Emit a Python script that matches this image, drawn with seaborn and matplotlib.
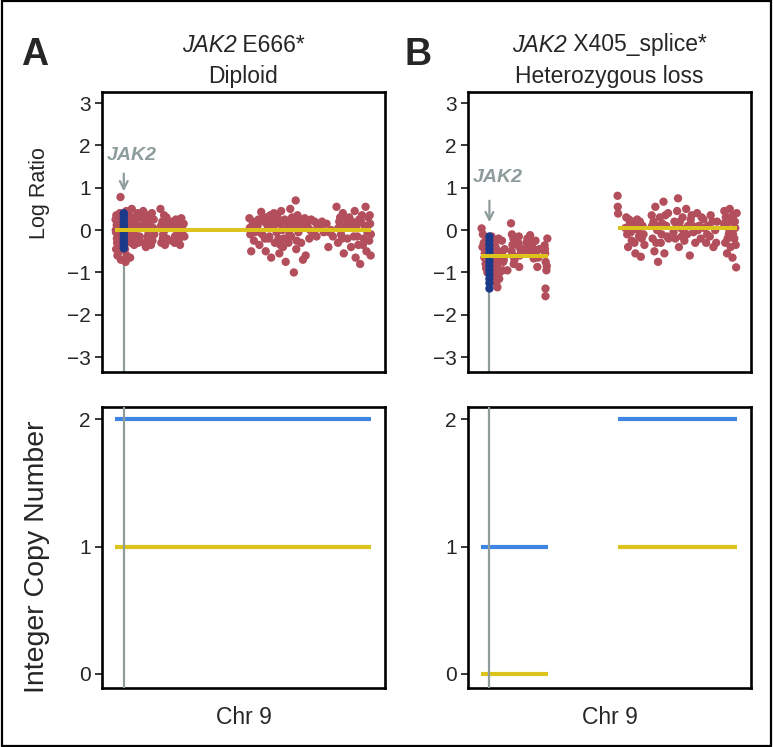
#!/usr/bin/env python3
"""Chr 9 log ratio and integer copy number around JAK2, two tumours side by side."""

import matplotlib
matplotlib.use("Agg")
import matplotlib.pyplot as plt
from matplotlib import font_manager
from matplotlib.patches import Rectangle
import pandas as pd
import seaborn as sns

# ---- data (positions in Mb along chr 9) ----
JAK2_POS_A = 4.8
JAK2_POS_B = 4.6

a_pos = [0.3, 0.5, 0.6, 0.9, 1.1, 1.3, 1.6, 1.8, 2.1, 2.3, 2.6, 2.8, 3.0, 3.2, 3.4, 3.7,
         5.6, 5.9, 6.2, 6.4, 6.6, 5.8, 6.1,
         7.5, 8.0, 8.3, 8.8, 9.2, 9.6, 10.1, 10.5, 11.0, 11.4, 12.0, 12.5, 13.0, 13.5, 13.9,
         15.5, 16.0, 16.4, 17.0, 17.5, 18.0, 18.6, 19.2, 19.8, 20.3, 21.0, 21.6,
         25.0, 25.5, 26.0, 26.5, 27.0, 27.5, 28.0, 28.5,
         30.5, 31.2, 32.0, 32.8, 33.5, 34.2, 35.0, 35.8, 36.5, 37.3, 38.2,
         0.4, 0.7, 1.0, 1.4, 1.9, 2.4, 2.9, 3.5, 5.5, 6.0, 6.5,
         7.2, 7.8, 8.5, 9.0, 9.9, 10.8, 11.8, 12.8, 13.6,
         15.8, 16.8, 17.8, 18.3, 19.5, 20.6, 21.3,
         25.3, 26.3, 27.3, 28.3,
         31.0, 32.4, 33.0, 34.6, 35.4, 36.2, 37.8,
         74.0, 74.5, 75.0, 75.5, 76.5,
         78.5, 79.5, 80.5, 81.0, 82.0, 83.0, 83.5, 84.5, 85.5, 86.0, 87.0, 88.0, 87.5,
         89.5, 90.0, 90.5, 91.5, 92.0, 92.5, 93.5, 94.0, 95.0, 95.5, 96.5, 97.0, 98.0,
         98.5, 99.5, 99.8, 100.5, 101.0, 102.0, 102.5, 103.5,
         104.5, 105.0, 106.0, 107.0, 108.0, 109.0, 110.0, 111.0, 112.0,
         113.5, 115.0, 116.5, 117.5, 119.0, 120.0,
         122.0, 122.8, 123.5, 124.5, 125.5, 126.0, 127.0, 128.0, 129.0, 130.0, 131.0,
         132.0, 132.5, 133.5, 134.5, 135.0, 136.0, 136.5, 137.5, 138.0, 138.5, 139.0,
         139.5, 140.0, 140.5, 140.8,
         74.2, 75.8, 77.0,
         79.0, 80.0, 81.5, 82.5, 84.0, 85.0, 86.5, 88.5,
         89.0, 90.8, 91.0, 93.0, 94.5, 96.0, 97.5, 99.0, 100.0, 101.5, 103.0,
         105.5, 107.5, 109.5, 111.5,
         114.0, 118.0,
         123.0, 124.0, 125.0, 127.5, 128.5, 130.5, 131.5, 133.0, 134.0, 135.5, 137.0,
         139.2, 140.3, 140.9]
a_lr = [0.25, -0.05, -0.45, 0.12, -0.3, -0.6, 0.3, -0.15, 0.05, -0.5, 0.4, -0.25, 0.78, -0.7, 0.15, -0.4,
        0.2, -0.3, 0.45, -0.6, -0.1, -0.75, 0.05,
        0.35, -0.2, -0.65, 0.15, 0.5, -0.1, 0.3, -0.35, 0.0, 0.25, -0.25, 0.4, 0.1, -0.15, 0.3,
        0.45, -0.3, 0.1, -0.4, 0.3, 0.0, -0.2, 0.2, -0.35, 0.4, 0.05, -0.1,
        0.5, -0.3, 0.2, -0.1, 0.35, -0.35, 0.1, -0.2,
        0.2, -0.25, 0.05, -0.3, 0.25, -0.1, 0.15, -0.35, 0.28, 0.0, -0.15,
        0.0, 0.35, -0.2, -0.1, 0.2, 0.1, -0.35, 0.0, -0.45, 0.35, 0.15,
        -0.05, 0.2, 0.05, -0.3, 0.15, -0.15, 0.1, -0.3, 0.05,
        0.15, 0.25, -0.15, 0.35, 0.05, -0.25, 0.25,
        0.1, -0.2, 0.0, 0.3,
        0.05, 0.2, -0.15, 0.1, -0.2, 0.1, 0.15,
        0.28, -0.1, -0.5, 0.1, -0.25,
        0.1, -0.35, 0.43, -0.1, 0.2, -0.5, 0.3, -0.2, 0.35, -0.65, 0.05, -0.3, 0.4,
        0.3, -0.2, -0.55, 0.45, 0.0, -0.4, 0.25, -0.75, 0.1, -0.3, 0.5, -0.15, 0.2,
        -1.0, 0.7, -0.45, 0.35, -0.05, 0.15, -0.3, -0.7,
        0.28, -0.6, 0.1, -0.2, 0.25, -0.1, 0.2, -0.15, 0.05,
        0.1, -0.05, 0.15, -0.4, 0.0, -0.15,
        0.55, -0.3, 0.2, -0.1, 0.4, -0.55, 0.1, -0.2, 0.3, -0.4, 0.05,
        0.45, -0.65, -0.15, 0.25, -0.8, 0.35, -0.35, 0.1, 0.55, -0.5, -0.05,
        0.3, -0.25, 0.15, -0.6,
        0.05, 0.2, -0.05,
        0.25, -0.05, 0.3, -0.2, 0.1, -0.15, 0.2, 0.15,
        -0.05, 0.15, -0.35, -0.2, 0.2, -0.1, 0.3, 0.05, -0.25, 0.25, 0.1,
        0.15, 0.0, -0.05, 0.1,
        0.2, -0.05,
        0.05, 0.3, -0.2, 0.25, 0.15, 0.2, -0.15, 0.1, -0.35, 0.2, -0.2,
        0.1, 0.35, -0.1]
a_jak2_lr = [0.4, 0.33, 0.26, 0.19, 0.12, 0.05, -0.02, -0.09, -0.16, -0.23, -0.3, -0.37, -0.43]

b_pos = [0.3, 1.0, 1.5, 2.0, 2.5, 3.0, 3.5, 5.8, 6.2, 6.5, 6.8, 7.2, 7.5, 7.8, 8.2, 8.6, 9.0,
         9.4, 9.8, 10.2, 11.5, 11.8, 12.0, 12.5, 14.5, 16.5, 17.0, 17.3, 17.6, 18.0,
         20.8, 21.0, 21.3, 21.0, 25.0, 26.0, 27.0, 28.0, 29.0, 30.0, 31.0, 32.0,
         35.0, 35.3, 35.6, 36.0, 35.5, 35.5, 36.5,
         0.8, 1.8, 2.8, 3.3,
         5.6, 6.0, 6.6, 7.0, 7.6, 8.0, 8.4, 8.8, 9.2, 9.6, 10.0,
         11.0, 12.2, 13.0,
         16.8, 17.8, 18.4,
         20.5, 22.0,
         24.5, 25.5, 27.5, 28.5, 30.5, 31.5,
         35.2, 36.2,
         75.2, 75.3, 75.5, 80.0, 80.5, 81.0, 82.0, 83.0, 84.0, 85.0, 86.0, 87.0, 88.0,
         89.0, 90.0, 94.0, 94.5, 95.5, 96.0, 97.0, 97.5, 98.5, 99.0, 100.0, 100.5, 101.0,
         102.0, 102.5, 103.0, 106.5, 107.0, 108.0, 108.5, 109.0, 110.0, 111.0, 112.0,
         113.0, 114.0, 115.0, 116.0, 117.0, 119.0, 120.0, 121.0, 122.5, 124.0, 125.0,
         126.5, 128.0, 129.0, 130.0, 134.0, 134.5, 135.0, 135.5, 136.0, 136.5, 137.0,
         137.5, 138.0, 138.5, 139.0, 139.5, 140.0, 140.5, 140.8,
         79.5, 81.5, 82.5, 83.5, 84.5, 85.5, 86.5, 87.5, 88.5, 89.5,
         94.2, 95.0, 96.5, 98.0, 99.5, 101.5, 103.3,
         106.0, 107.5, 109.5, 110.5, 111.5, 113.5, 115.5, 116.5, 118.0,
         119.5, 121.5, 123.0, 124.5, 126.0, 127.5, 129.5,
         133.8, 134.8, 135.8, 136.8, 137.8, 138.8, 139.8, 140.3]
b_lr = [0.04, -0.1, -0.3, -0.55, -0.8, -0.2, -1.0, -0.15, -0.45, -0.7, -0.95, -1.2, -0.3, -0.6, -0.85, -1.1, -1.35,
        -0.5, -0.75, -1.0, -0.25, -0.5, -0.95, -0.7, -0.95, 0.16, -0.1, -0.35, -0.6, -0.8,
        -0.15, -0.4, -0.6, -0.87, -0.3, -0.55, -0.12, -0.4, -0.67, -0.25, -0.87, -0.45,
        -0.36, -0.55, -0.75, -0.95, -1.38, -1.56, -0.2,
        -0.4, -0.65, -0.9, -0.5,
        -0.35, -0.8, -1.05, -0.55, -1.0, -0.4, -1.25, -0.65, -0.9, -0.2, -1.15,
        -0.6, -0.75, -0.45,
        -0.5, -0.2, -0.7,
        -0.3, -0.5,
        -0.45, -0.2, -0.55, -0.3, -0.5, -0.65,
        -0.45, -0.85,
        0.81, 0.55, 0.39, 0.3, -0.1, -0.4, 0.15, -0.25, 0.05, -0.55, 0.25, -0.15, -0.63,
        0.1, -0.35, 0.35, -0.2, -0.5, 0.55, 0.0, -0.75, 0.3, -0.3, 0.15, 0.67, -0.55,
        0.1, -0.15, 0.4, 0.2, -0.2, 0.45, 0.75, -0.4, 0.05, 0.3, -0.25,
        0.5, 0.1, -0.6, 0.35, -0.05, 0.4, 0.1, -0.2, 0.25, -0.3, 0.1,
        0.35, -0.4, 0.0, 0.2, 0.45, -0.3, 0.1, -0.55, 0.3, -0.1, 0.5,
        -0.4, 0.2, -0.65, 0.35, -0.2, 0.05, -0.88, 0.4,
        0.05, 0.25, -0.05, 0.2, -0.3, 0.1, 0.0, 0.2, -0.2, -0.1,
        0.1, 0.2, -0.3, 0.1, -0.1, 0.35, -0.2,
        -0.05, 0.15, 0.2, -0.15, 0.0, -0.1, 0.25, 0.1, -0.3,
        0.0, 0.3, 0.05, -0.1, -0.15, 0.2, -0.3,
        0.15, 0.3, -0.2, 0.0, 0.25, -0.1, 0.2, -0.35]
b_jak2_lr = [-0.15, -0.25, -0.35, -0.45, -0.55, -0.65, -0.75, -0.85, -0.95, -1.05, -1.15, -1.25, -1.38]

# segments: (start, end, value)
a_lr_segs = [(0, 141, 0.0)]
b_lr_segs = [(0, 37, -0.62), (75.2, 141, 0.04)]
a_total_cn = [(0, 141, 2)]
a_minor_cn = [(0, 141, 1)]
b_total_cn = [(0, 37, 1), (75.2, 141, 2)]
b_minor_cn = [(0, 37, 0), (75.2, 141, 1)]

panel_letters = ["A", "B"]
gene_titles = [" E666*", " X405_splice*"]
state_titles = ["Diploid", "Heterozygous loss"]

RED = "#b34f5c"
NAVY = "#1b3a8a"
YELLOW = "#dcc41c"
BLUE = "#3f86e4"
GREY = "#8e9c9c"

# fonts
names = {f.name for f in font_manager.fontManager.ttflist}
NARROW = "Liberation Sans Narrow" if "Liberation Sans Narrow" in names else "Liberation Sans"
HEAD = [NARROW, "DejaVu Sans"]

sns.set_style("white")
plt.rcParams["font.family"] = ["Liberation Sans", "DejaVu Sans"]

W, H = 773, 747
fig = plt.figure(figsize=(W / 100, H / 100), dpi=100)
fig.patches.append(Rectangle((0.002, 0.002), 0.996, 0.996, transform=fig.transFigure,
                             fill=False, edgecolor="black", linewidth=1.6))

lefts = [102 / W, 468 / W]
width = 283 / W
top_box = (1 - 372 / H, 280 / H)
bot_box = (1 - 688 / H, 281 / H)

panels = [
    dict(pos=a_pos, lr=a_lr, jlr=a_jak2_lr, jpos=JAK2_POS_A, segs=a_lr_segs,
         tot=a_total_cn, minor=a_minor_cn, lab=(9.4, 1.77), arr=(1.4, 0.85)),
    dict(pos=b_pos, lr=b_lr, jlr=b_jak2_lr, jpos=JAK2_POS_B, segs=b_lr_segs,
         tot=b_total_cn, minor=b_minor_cn, lab=(9.3, 1.23), arr=(0.76, 0.12)),
]

XLIM = (-7.2, 148.7)


def style_axes(ax):
    for s in ax.spines.values():
        s.set_visible(True)
        s.set_color("black")
        s.set_linewidth(1.9)
    ax.set_xticks([])
    ax.tick_params(axis="y", which="major", left=True, length=5, width=1.1,
                   labelsize=15, color="black", pad=3)
    ax.set_xlim(*XLIM)


def mixed_title(xc, y, italic_part, rest, size):
    """Centre an italic gene name followed by upright text."""
    t1 = fig.text(0, y, italic_part, fontsize=size, fontstyle="italic",
                  family=HEAD, ha="left", va="center")
    t2 = fig.text(0, y, rest, fontsize=size, family=HEAD, ha="left", va="center")
    r = fig.canvas.get_renderer()
    w1 = t1.get_window_extent(r).width
    w2 = t2.get_window_extent(r).width
    x0 = xc * W - (w1 + w2) / 2
    t1.set_x(x0 / W)
    t2.set_x((x0 + w1) / W)


for i, p in enumerate(panels):
    ax = fig.add_axes([lefts[i], top_box[0], width, top_box[1]])
    bx = fig.add_axes([lefts[i], bot_box[0], width, bot_box[1]])

    # top: log ratio
    df = pd.DataFrame({"pos": p["pos"], "lr": p["lr"]})
    jdf = pd.DataFrame({"pos": [p["jpos"]] * len(p["jlr"]), "lr": p["jlr"]})
    ax.vlines(p["jpos"], -3.35, max(p["jlr"]), color=GREY, linewidth=1.6, zorder=1)
    sns.scatterplot(data=df, x="pos", y="lr", ax=ax, color=RED, s=36,
                    edgecolor="none", linewidth=0, zorder=2, legend=False)
    sns.scatterplot(data=jdf, x="pos", y="lr", ax=ax, color=NAVY, s=36,
                    edgecolor="none", linewidth=0, zorder=3, legend=False)
    for x0, x1, v in p["segs"]:
        ax.hlines(v, x0, x1, color=YELLOW, linewidth=2.9, zorder=4)
    ax.text(p["lab"][0], p["lab"][1], "JAK2", color=GREY, fontsize=14,
            fontweight="bold", fontstyle="italic", ha="center", va="center")
    ax.annotate("", xy=(p["jpos"], p["arr"][1]), xytext=(p["jpos"], p["arr"][0]),
                arrowprops=dict(arrowstyle="->", color=GREY, lw=1.6,
                                mutation_scale=14))
    ax.set_ylim(-3.35, 3.26)
    ax.set_yticks([3, 2, 1, 0, -1, -2, -3])
    ax.set_yticklabels(["3", "2", "1", "0", "\u22121", "\u22122", "\u22123"])
    ax.set_xlabel("")
    ax.set_ylabel("")
    style_axes(ax)

    # bottom: integer copy number
    for x0, x1, v in p["tot"]:
        bx.hlines(v, x0, x1, color=BLUE, linewidth=3.0, zorder=2)
    for x0, x1, v in p["minor"]:
        bx.hlines(v, x0, x1, color=YELLOW, linewidth=3.0, zorder=2)
    bx.axvline(p["jpos"], color=GREY, linewidth=1.6, zorder=3)
    bx.set_ylim(-0.11, 2.095)
    bx.set_yticks([0, 1, 2])
    style_axes(bx)

    # headers
    cx = lefts[i] + width / 2
    mixed_title(cx, 1 - 45 / H, "JAK2", gene_titles[i], 16.5)
    fig.text(cx, 1 - 77 / H, state_titles[i], ha="center", va="center",
             fontsize=16.5, family=HEAD)
    fig.text(35 / W if i == 0 else 418 / W, 1 - 55 / H,
             panel_letters[i], ha="center", va="center", fontsize=27,
             fontweight="bold", family=HEAD)
    fig.text(cx, 1 - 717 / H, "Chr 9", ha="center", va="center",
             fontsize=16.5, family=HEAD)

fig.text(40 / W, 1 - 193 / H, "Log Ratio", rotation=90, ha="center",
         va="center", fontsize=15.5, family=HEAD)
fig.text(37 / W, 1 - 557 / H, "Integer Copy Number", rotation=90, ha="center",
         va="center", fontsize=20.5, family=HEAD)

fig.savefig("out.png", dpi=100)
